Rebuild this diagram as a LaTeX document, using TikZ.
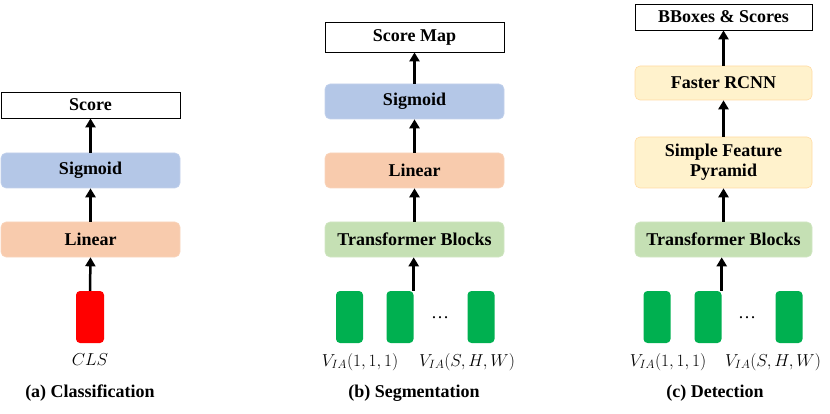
\documentclass[tikz,border=0pt]{standalone}
\usepackage{fontspec}
\setmainfont{Liberation Serif}
\usetikzlibrary{arrows.meta}
\definecolor{cblue}{HTML}{B4C7E7}
\definecolor{corange}{HTML}{F8CBAD}
\definecolor{cgreenl}{HTML}{C5E0B4}
\definecolor{cyellow}{HTML}{FFF2CC}
\definecolor{cgreen}{HTML}{00B050}
\definecolor{cred}{HTML}{FF0000}
\tikzset{
  lbl/.style={font=\rmfamily\fontsize{18}{20}\selectfont\bfseries, align=center},
  outbox/.style={lbl, draw=black, line width=0.8pt, fill=white, inner sep=0pt},
  cbox/.style={lbl, rounded corners=5pt, inner sep=0pt, line width=0.6pt},
  token/.style={rounded corners=4pt, inner sep=0pt, minimum width=27pt, minimum height=52pt},
  arr/.style={line width=2.5pt, -{Triangle[length=9pt,width=10pt]}},
  mlbl/.style={font=\rmfamily\fontsize{18}{20}\selectfont},
  captxt/.style={font=\rmfamily\fontsize{18}{20}\selectfont\bfseries}
}
\begin{document}
\begin{tikzpicture}[x=1pt,y=-1pt]
\useasboundingbox (0,0) rectangle (830,414);
% (a)
\node[outbox, minimum width=179pt, minimum height=26pt] (aout) at (90.5,105) {Score};
\node[cbox, fill=cblue, draw=cblue!80!white, minimum width=179pt, minimum height=35pt] (asig) at (90.5,170.5) {Sigmoid};
\node[cbox, fill=corange, draw=corange!80!white, minimum width=179pt, minimum height=35pt] (alin) at (90.5,239.5) {Linear};
\node[token, fill=cred, minimum width=28pt] (acls) at (90,317) {};
\node[mlbl] (aclsl) at (90,360) {$CLS$};
\node[captxt] (acap) at (90,393) {(a) Classification};
\draw[arr] (acls.north) -- (alin.south);
\draw[arr] (alin.north) -- (asig.south);
\draw[arr] (asig.north) -- (aout.south);
% (b)
\node[outbox, minimum width=179pt, minimum height=30pt] (bout) at (414.5,37) {Score Map};
\node[cbox, fill=cblue, draw=cblue!80!white, minimum width=179pt, minimum height=35pt] (bsig) at (414.5,101.5) {Sigmoid};
\node[cbox, fill=corange, draw=corange!80!white, minimum width=179pt, minimum height=35pt] (blin) at (414.5,170.5) {Linear};
\node[cbox, fill=cgreenl, draw=cgreenl!80!white, minimum width=179pt, minimum height=35pt] (btb) at (414.5,239.5) {Transformer Blocks};
\node[token, fill=cgreen] (bg1) at (349.5,317) {};
\node[token, fill=cgreen] (bg2) at (400,317) {};
\node[token, fill=cgreen] (bg3) at (481,317) {};
\node[mlbl] (bdots) at (440,318) {\ldots};
\node[mlbl] (bl1) at (360,362) {$V_{IA}(1,1,1)$};
\node[mlbl] (bl2) at (467,362) {$V_{IA}(S,H,W)$};
\node[captxt] (bcap) at (414,393) {(b) Segmentation};
\draw[arr] (bg2.north east) -- (bg2.north east |- btb.south);
\draw[arr] (btb.north) -- (blin.south);
\draw[arr] (blin.north) -- (bsig.south);
\draw[arr] (bsig.north) -- (bout.south);
% (c)
\node[outbox, minimum width=177pt, minimum height=26pt] (cout) at (723.5,17) {BBoxes \& Scores};
\node[cbox, fill=cyellow, draw=cyellow!80!orange, minimum width=177pt, minimum height=34pt] (cfr) at (723.5,83) {Faster RCNN};
\node[cbox, fill=cyellow, draw=cyellow!80!orange, minimum width=177pt, minimum height=51pt] (csfp) at (723.5,162.5) {Simple Feature\\Pyramid};
\node[cbox, fill=cgreenl, draw=cgreenl!80!white, minimum width=177pt, minimum height=35pt] (ctb) at (723.5,239.5) {Transformer Blocks};
\node[token, fill=cgreen] (cg1) at (657,317) {};
\node[token, fill=cgreen] (cg2) at (708,317) {};
\node[token, fill=cgreen] (cg3) at (789,317) {};
\node[mlbl] (cdots) at (747,318) {\ldots};
\node[mlbl] (cl1) at (668,362) {$V_{IA}(1,1,1)$};
\node[mlbl] (cl2) at (773,362) {$V_{IA}(S,H,W)$};
\node[captxt] (ccap) at (715,393) {(c) Detection};
\draw[arr] (cg2.north east) -- (cg2.north east |- ctb.south);
\draw[arr] (ctb.north) -- (csfp.south);
\draw[arr] (csfp.north) -- (cfr.south);
\draw[arr] (cfr.north) -- (cout.south);
\end{tikzpicture}
\end{document}
